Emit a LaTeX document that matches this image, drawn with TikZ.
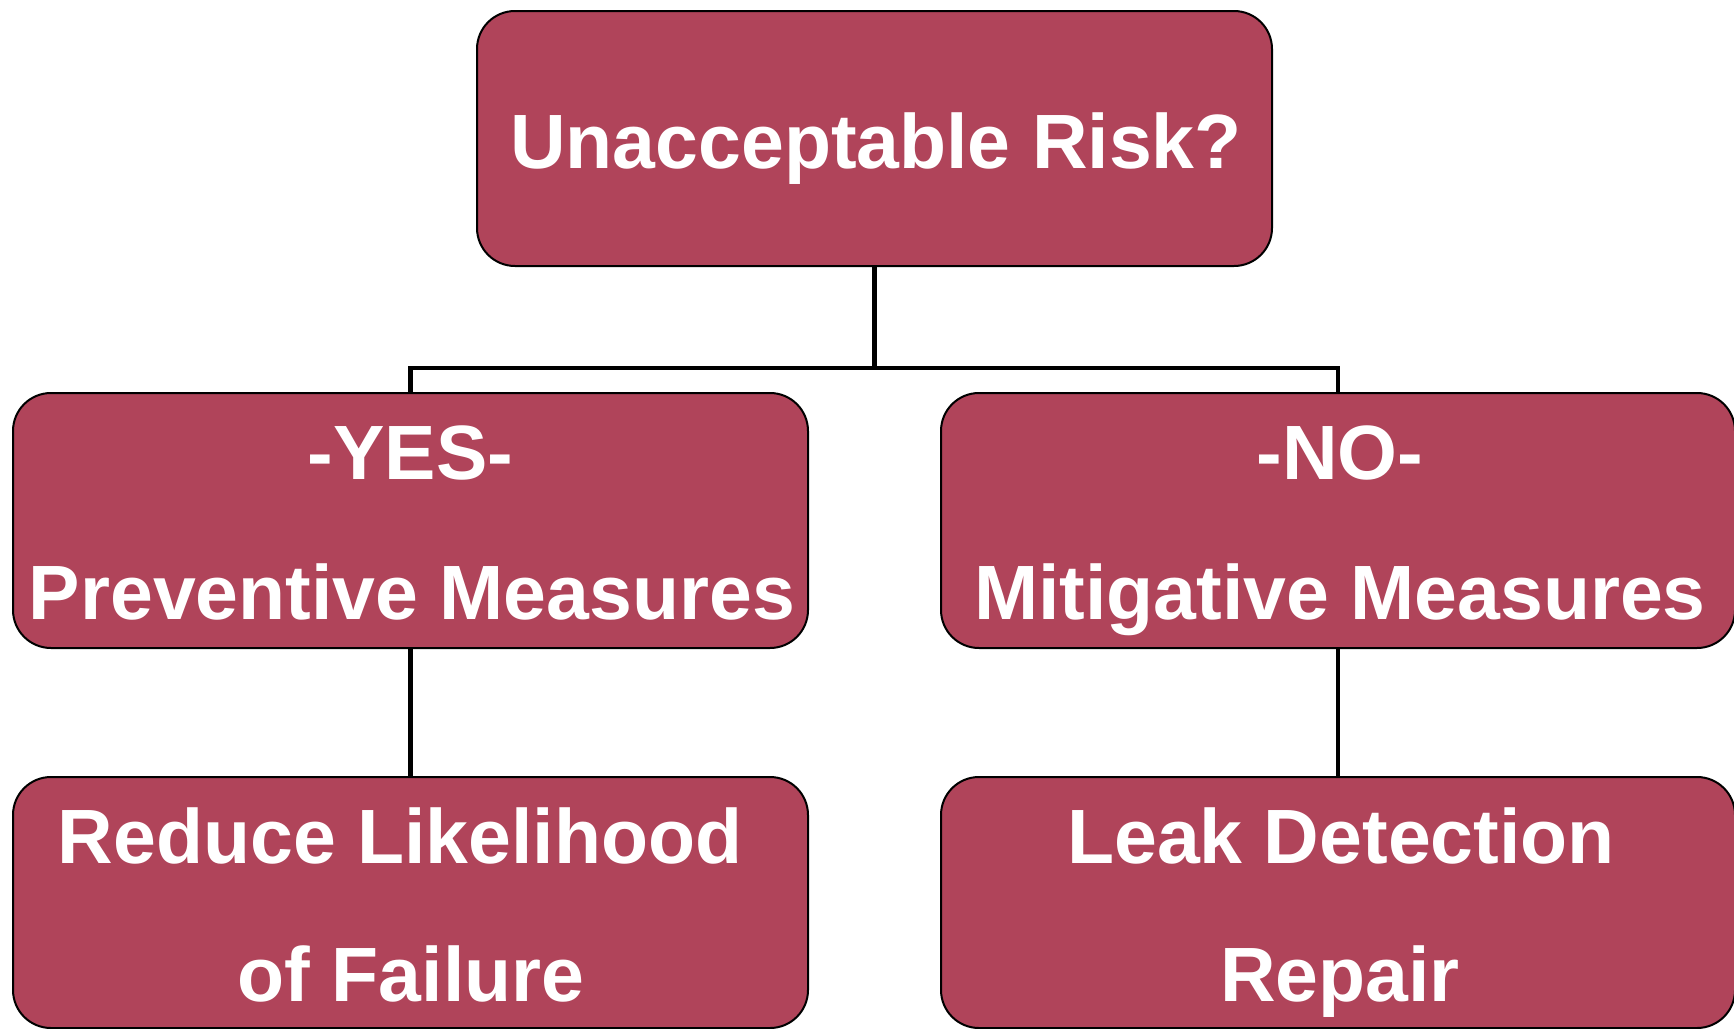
\documentclass[tikz,border=0pt]{standalone}
\usepackage{fontspec}
\setmainfont{Liberation Sans}
\definecolor{boxred}{HTML}{B0445A}
\tikzset{
  box/.style={draw=black, line width=2pt, fill=boxred, rounded corners=38pt, inner sep=0pt},
  lbl/.style={anchor=base, text=white, font=\fontsize{77}{90}\selectfont\bfseries, inner sep=0pt},
  conn/.style={draw=black, line width=4.5pt}
}
\begin{document}
\begin{tikzpicture}[x=1pt,y=-1pt]
\useasboundingbox (0,0) rectangle (1734,1028);
% boxes
\node[box, minimum width=795pt, minimum height=255pt] (top) at (874.5,138.5) {};
\node[box, minimum width=795pt, minimum height=255pt] (yes) at (410.5,520.5) {};
\node[box, minimum width=794pt, minimum height=255pt] (no) at (1338,520.5) {};
\node[box, minimum width=795pt, minimum height=251pt] (redu) at (410.5,902.5) {};
\node[box, minimum width=794pt, minimum height=251pt] (leak) at (1338,902.5) {};
% connectors
\coordinate (split) at (874.5,368);
\draw[conn] (top.south) -- (split);
\draw[conn] (split) -| (yes.north);
\draw[conn] (split) -| (no.north);
\draw[conn] (yes.south) -- (redu.north);
\draw[conn] (no.south) -- (leak.north);
% texts
\node[lbl] (t1) at (876,168) {Unacceptable Risk?};
\node[lbl] (t2) at (410.5,479) {-YES-};
\node[lbl] (t3) at (412,619) {Preventive Measures};
\node[lbl] (t4) at (1340,479) {-NO-};
\node[lbl] (t5) at (1340,619) {Mitigative Measures};
\node[lbl] (t6) at (400,863) {Reduce Likelihood};
\node[lbl] (t7) at (411,1001) {of Failure};
\node[lbl] (t8) at (1341,863) {Leak Detection};
\node[lbl] (t9) at (1340,1001) {Repair};
\end{tikzpicture}
\end{document}
